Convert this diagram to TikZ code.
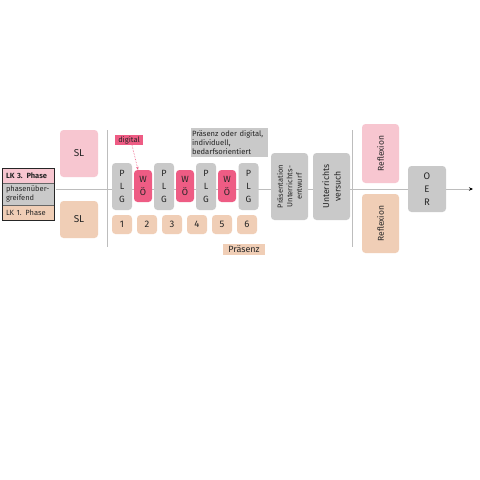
\documentclass[tikz,border=0pt]{standalone}
\usepackage{fontspec}
\setmainfont{Fira Sans}
\usetikzlibrary{arrows.meta}
\definecolor{lpink}{HTML}{F7C6D0}
\definecolor{peach}{HTML}{F0CEB6}
\definecolor{lgray}{HTML}{C9C9C9}
\definecolor{hpink}{HTML}{EE5C84}
\definecolor{txt}{HTML}{262626}
\definecolor{linec}{HTML}{BDBDBD}
\tikzset{
  box/.style={rounded corners=3.5pt, inner sep=0pt, align=center, text=txt, draw=none},
  legrow/.style={inner sep=0pt, minimum width=51pt, text=txt, font=\fontsize{7.5}{8.5}\selectfont, align=left, text width=45pt},
  stack/.style={font=\fontsize{9}{13}\selectfont},
  numbox/.style={box, fill=peach, minimum width=20pt, minimum height=19pt, font=\fontsize{9.5}{12}\selectfont},
  plg/.style={box, fill=lgray, minimum width=20pt, minimum height=47pt, stack},
  wo/.style={box, fill=hpink, minimum width=18pt, minimum height=32pt, stack},
  sep/.style={draw=linec, line width=0.8pt},
}
\begin{document}
\begin{tikzpicture}[x=1pt,y=-1pt]
\useasboundingbox[fill=white] (0,0) rectangle (480,480);
% legend
\node[legrow, fill=lpink, minimum height=14pt, font=\fontsize{7.5}{8.5}\selectfont\bfseries] (lg3) at (28.5,176) {LK 3. Phase};
\node[legrow, fill=lgray, minimum height=22pt] (lgg) at (28.5,194) {phasenüber-\\greifend};
\node[legrow, fill=peach, minimum height=15pt] (lg1) at (28.5,212.5) {LK 1. Phase};
\draw[draw=txt!70, line width=0.6pt] (lg3.south west) -- (lg3.south east);
\draw[draw=txt!70, line width=0.6pt] (lgg.south west) -- (lgg.south east);
\draw[draw=txt, line width=0.9pt] (lg3.north west) rectangle (lg1.south east);
% main line
\coordinate (ls) at (56,189);
\coordinate (le) at (473,189);
\draw[draw=linec, line width=0.8pt, -{Stealth[length=4pt,width=3.5pt,color=black]}] (ls) -- (le);
% separators
\coordinate (v1a) at (107,130); \coordinate (v1b) at (107,247);
\coordinate (v2a) at (352,130); \coordinate (v2b) at (352,247);
\draw[sep] (v1a) -- (v1b);
\draw[sep] (v2a) -- (v2b);
% SL
\node[box, fill=lpink, minimum width=38pt, minimum height=47pt, font=\fontsize{10}{12}\selectfont] (sl1) at (79,153.5) {SL};
\node[box, fill=peach, minimum width=38pt, minimum height=37pt, font=\fontsize{10}{12}\selectfont] (sl2) at (79,219.5) {SL};
% digital label
\node[fill=hpink, inner sep=0pt, minimum width=28pt, minimum height=10pt, text=txt, font=\fontsize{7.5}{8}\selectfont] (dig) at (129,140) {digital};
% PLG / WÖ
\node[plg] (p1) at (122,186.5) {P\\L\\G};
\node[wo] (w1) at (143,186) {W\\Ö};
\node[plg] (p2) at (164,186.5) {P\\L\\G};
\node[wo] (w2) at (185,186) {W\\Ö};
\node[plg] (p3) at (206,186.5) {P\\L\\G};
\node[wo] (w3) at (227,186) {W\\Ö};
\node[plg] (p4) at (248.5,186.5) {P\\L\\G};
\draw[hpink, densely dotted, line width=0.6pt, -{Stealth[length=3pt,width=2.5pt]}] ([xshift=3pt]dig.south) -- ([xshift=-5pt]w1.north);
% numbers
\node[numbox] (n1) at (122,224.5) {1};
\node[numbox] (n2) at (147,224.5) {2};
\node[numbox] (n3) at (172,224.5) {3};
\node[numbox] (n4) at (197,224.5) {4};
\node[numbox] (n5) at (222,224.5) {5};
\node[numbox] (n6) at (247,224.5) {6};
\node[fill=peach, inner sep=0pt, minimum width=42pt, minimum height=11pt, text=txt, font=\fontsize{9}{9}\selectfont] (pr) at (244,249.5) {Präsenz};
% info box
\node[fill=lgray, inner sep=0pt, minimum width=77pt, minimum height=29pt, text width=75pt, align=left, text=txt, font=\fontsize{7.6}{8.8}\selectfont] (info) at (229.5,142.5) {Präsenz oder digital,\\individuell,\\bedarfsorientiert};
% Praesentation / Unterrichtsversuch
\node[box, fill=lgray, minimum width=37pt, minimum height=67pt] (pres) at (289.5,186.5) {};
\node[rotate=90, align=center, text=txt, font=\fontsize{7.5}{9.5}\selectfont] (prest) at (pres.center) {Präsentation\\Unterrichts-\\entwurf};
\node[box, fill=lgray, minimum width=37pt, minimum height=67pt] (uv) at (331.5,186.5) {};
\node[rotate=90, align=center, text=txt, font=\fontsize{8.7}{11.5}\selectfont] (uvt) at (uv.center) {Unterrichts\\versuch};
% Reflexion
\node[box, fill=lpink, minimum width=37pt, minimum height=59pt] (r1) at (380.5,153.5) {};
\node[rotate=90, text=txt, font=\fontsize{8.5}{9}\selectfont] (r1t) at (r1.center) {Reflexion};
\node[box, fill=peach, minimum width=37pt, minimum height=59pt] (r2) at (380.5,223.5) {};
\node[rotate=90, text=txt, font=\fontsize{8.5}{9}\selectfont] (r2t) at (r2.center) {Reflexion};
% OER
\node[box, fill=lgray, minimum width=38pt, minimum height=46pt, font=\fontsize{9.5}{13}\selectfont] (oer) at (427,189) {O\\E\\R};
\end{tikzpicture}
\end{document}
